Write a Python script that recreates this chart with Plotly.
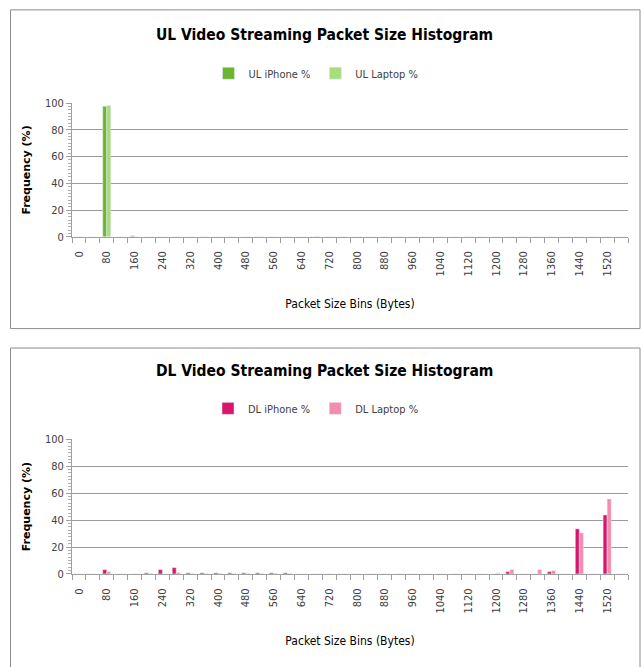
import plotly.graph_objects as go

# Packet size bins (bytes), 40-byte bins
bins = [0, 40, 80, 120, 160, 200, 240, 280, 320, 360, 400, 440, 480, 520, 560, 600,
        640, 680, 720, 760, 800, 840, 880, 920, 960, 1000, 1040, 1080, 1120, 1160,
        1200, 1240, 1280, 1320, 1360, 1400, 1440, 1480, 1520, 1560]
tick_labels = [0, 80, 160, 240, 320, 400, 480, 560, 640, 720, 800, 880, 960, 1040,
               1120, 1200, 1280, 1360, 1440, 1520]

ul_iphone = [0, 0, 97.7, 0, 0.7, 0, 0, 0, 0, 0, 0, 0, 0, 0, 0, 0,
             0, 0, 0, 0, 0, 0, 0, 0, 0, 0, 0, 0, 0, 0,
             0, 0, 0, 0, 0, 0, 0, 0, 0, 0]
ul_laptop = [0, 0, 98.2, 0, 0, 0, 0, 0, 0, 0, 0, 0, 0, 0, 0, 0,
             0, 0.5, 0, 0, 0, 0, 0, 0, 0, 0, 0, 0, 0, 0,
             0, 0, 0, 0, 0, 0, 0, 0, 0, 0]
dl_iphone = [0, 0, 3.2, 0, 0, 0.8, 3.2, 4.7, 0.8, 0.8, 0.8, 0.8, 0.8, 0.8, 0.8, 0.8,
             0, 0, 0, 0, 0, 0, 0, 0, 0, 0, 0, 0, 0, 0,
             0, 1.7, 0, 0, 1.7, 0, 33.5, 0, 43.8, 0]
dl_laptop = [0, 0, 1.6, 0, 0, 0.3, 0, 1.0, 0.3, 0.3, 0.3, 0.3, 0.3, 0.3, 0.3, 0.3,
             0, 0, 0, 0, 0, 0, 0, 0, 0, 0, 0, 0, 0, 0,
             0.5, 3.2, 0, 3.2, 2.5, 0, 30.5, 0, 55.7, 0]

W, H = 641, 667
FONT = "DejaVu Sans Condensed, Liberation Sans Narrow, sans-serif"
TXT = "#404040"

fig = go.Figure()
fig.add_bar(x=bins, y=ul_iphone, name="UL iPhone %", marker_color="#6cb52f",
            xaxis="x", yaxis="y", legend="legend")
fig.add_bar(x=bins, y=ul_laptop, name="UL Laptop %", marker_color="#a9dc7f",
            xaxis="x", yaxis="y", legend="legend")
fig.add_bar(x=bins, y=dl_iphone, name="DL iPhone %", marker_color="#d8176c",
            xaxis="x2", yaxis="y2", legend="legend2")
fig.add_bar(x=bins, y=dl_laptop, name="DL Laptop %", marker_color="#f48cb0",
            xaxis="x2", yaxis="y2", legend="legend2")

def px_x(p):
    return p / W

def px_y(p):
    # compensate the slight vertical scaling seen in the rendered capture
    yi = (p - 4.6) / 0.983
    return 1 - yi / H

xdom = [px_x(72), px_x(628)]

def xaxis_cfg(anchor):
    return dict(
        domain=xdom, anchor=anchor, range=[-20, 1580],
        tickvals=tick_labels, ticktext=[str(v) for v in tick_labels],
        tickangle=-90, ticks="", showgrid=False, zeroline=False,
        showline=True, linecolor="#a0a0a0", linewidth=1,
        ticklabelstandoff=9,
        tickfont=dict(family=FONT, size=11, color=TXT),
        minor=dict(tick0=-20, dtick=40, ticks="outside", ticklen=5,
                   tickcolor="#a0a0a0", showgrid=False),
        title=dict(text="Packet Size Bins (Bytes)", standoff=24,
                   font=dict(family=FONT, size=12, color="#000")),
    )

def yaxis_cfg(anchor, dom):
    return dict(
        domain=dom, anchor=anchor, range=[0, 100], dtick=20,
        showgrid=True, gridcolor="#9a9a9a", gridwidth=1, zeroline=False,
        showline=True, linecolor="#a0a0a0", linewidth=1,
        ticks="outside", ticklen=5, tickcolor="#a0a0a0",
        tickfont=dict(family=FONT, size=11, color=TXT),
        minor=dict(dtick=2.5, ticks="outside", ticklen=3, tickcolor="#b0b0b0",
                   showgrid=False),
        title=dict(text="<b>Frequency (%)</b>", standoff=12,
                   font=dict(family="Verdana, DejaVu Sans, sans-serif", size=11, color="#000")),
    )

fig.update_layout(
    width=W, height=H,
    margin=dict(l=0, r=0, t=0, b=0),
    paper_bgcolor="white", plot_bgcolor="white",
    barmode="group", bargap=0.42, bargroupgap=0,
    xaxis=xaxis_cfg("y"),
    yaxis=yaxis_cfg("x", [px_y(236), px_y(102)]),
    xaxis2=xaxis_cfg("y2"),
    yaxis2=yaxis_cfg("x2", [px_y(574), px_y(439)]),
    legend=dict(orientation="h", x=px_x(316), y=px_y(72), xanchor="center", yanchor="middle",
                font=dict(family=FONT, size=11, color=TXT), itemwidth=30,
                bgcolor="rgba(0,0,0,0)"),
    legend2=dict(orientation="h", x=px_x(316), y=px_y(408), xanchor="center", yanchor="middle",
                 font=dict(family=FONT, size=11, color=TXT), itemwidth=30,
                 bgcolor="rgba(0,0,0,0)"),
    showlegend=True,
    annotations=[
        dict(text="<b>UL Video Streaming Packet Size Histogram</b>", x=px_x(325), y=px_y(34),
             xref="paper", yref="paper", showarrow=False, xanchor="center", yanchor="middle",
             font=dict(family=FONT, size=15.5, color="#000")),
        dict(text="<b>DL Video Streaming Packet Size Histogram</b>", x=px_x(325), y=px_y(371),
             xref="paper", yref="paper", showarrow=False, xanchor="center", yanchor="middle",
             font=dict(family=FONT, size=15.5, color="#000")),
    ],
    shapes=[
        dict(type="rect", xref="paper", yref="paper", x0=px_x(10.5), x1=px_x(640), y0=px_y(328),
             y1=px_y(8.5), line=dict(color="#8c8c8c", width=1)),
        dict(type="rect", xref="paper", yref="paper", x0=px_x(10.5), x1=px_x(640), y0=px_y(685),
             y1=px_y(347.5), line=dict(color="#8c8c8c", width=1)),
    ],
)

fig.write_html("out.html", config={"displayModeBar": False},
               post_script="document.body.style.margin='0';document.body.style.overflow='hidden';")
